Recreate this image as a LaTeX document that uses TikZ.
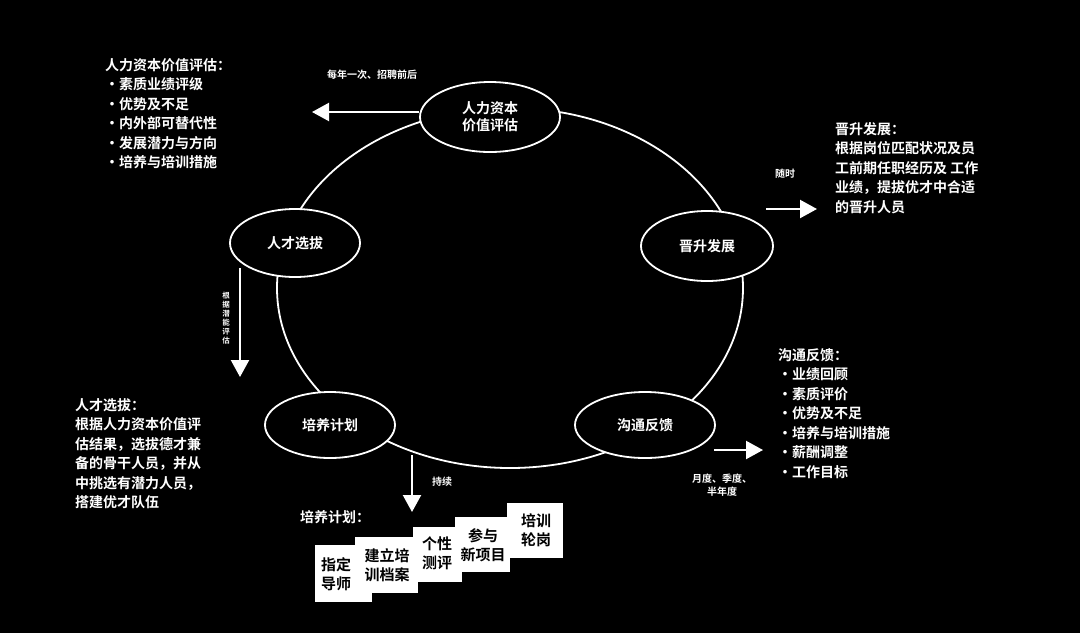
\documentclass[tikz,border=0pt]{standalone}
\usepackage{fontspec}
\setmainfont{Noto Sans CJK SC}[BoldFont={Noto Sans CJK SC Bold}]
\usetikzlibrary{shapes.geometric,arrows.meta}
\begin{document}
\begin{tikzpicture}[x=1pt,y=-1pt,
 el/.style={ellipse,draw=white,line width=1.8pt,fill=black,text=white,minimum width=134pt,minimum height=68pt,font=\bfseries\fontsize{14}{17}\selectfont,align=center,inner sep=0pt},
 arr/.style={draw=white,line width=2.2pt,-{Triangle[width=18pt,length=17pt]}},
 small/.style={text=white,font=\bfseries\fontsize{10}{13}\selectfont,align=center,inner sep=0pt},
 txt/.style={text=white,font=\bfseries\fontsize{14}{19.5}\selectfont,align=left,anchor=north west,inner sep=0pt},
 stxt/.style={text=black,font=\bfseries\fontsize{15}{19}\selectfont,align=center,inner sep=0pt}]
\fill[black] (0,0) rectangle (1080,633);
\useasboundingbox (0,0) rectangle (1080,633);
\draw[white,line width=1.8pt,fill=black] (510,288) ellipse[x radius=233,y radius=180];
\node[el,minimum width=140pt,minimum height=70pt] (top) at (490,117) {人力资本\\价值评估};
\node[el,minimum width=130pt] (left) at (295,243) {人才选拔};
\node[el,minimum width=132pt,minimum height=70pt] (right) at (707,246) {晋升发展};
\node[el,minimum width=130pt,minimum height=66pt] (bl) at (330,425) {培养计划};
\node[el,minimum width=140pt,minimum height=66pt] (br) at (645,425) {沟通反馈};
\coordinate (a1) at (312,112);
\draw[arr] (top.west) ++(0,-5) -- (a1);
\node[small] at (372,75) {每年一次、招聘前后};
\coordinate (b0) at (240,268); \coordinate (b1) at (240,377);
\draw[arr] (b0) -- (b1);
\node[small,font=\bfseries\fontsize{7.5}{9}\selectfont] at (226,318) {根\\据\\潜\\能\\评\\估};
\coordinate (c0) at (766,209); \coordinate (c1) at (817,209);
\draw[arr] (c0) -- (c1);
\node[small] at (785,174) {随时};
\coordinate (d0) at (714,450); \coordinate (d1) at (763,450);
\draw[arr] (d0) -- (d1);
\node[small] at (722,485) {月度、季度、\\半年度};
\coordinate (e0) at (412,455); \coordinate (e1) at (412,512);
\draw[arr] (e0) -- (e1);
\node[small] at (442,482) {持续};
\node[txt] (t1) at (105,58) {人力资本价值评估：\\•素质业绩评级\\•优势及不足\\•内外部可替代性\\•发展潜力与方向\\•培养与培训措施};
\node[txt] (t2) at (835,122) {晋升发展：\\根据岗位匹配状况及员\\工前期任职经历及 工作\\业绩，提拔优才中合适\\的晋升人员};
\node[txt] (t3) at (778,348) {沟通反馈：\\•业绩回顾\\•素质评价\\•优势及不足\\•培养与培训措施\\•薪酬调整\\•工作目标};
\node[txt] (t4) at (75,398) {人才选拔：\\根据人力资本价值评\\估结果，选拔德才兼\\备的骨干人员，并从\\中挑选有潜力人员，\\搭建优才队伍};
\node[txt] (t5) at (300,510) {培养计划：};
\fill[white] (315,545) rectangle (372,602);
\fill[white] (355,537) rectangle (418,593);
\fill[white] (413,527) rectangle (462,582);
\fill[white] (455,517) rectangle (510,572);
\fill[white] (507,503) rectangle (563,558);
\node[stxt] (s1) at (336,574) {指定\\导师};
\node[stxt] (s2) at (387,565) {建立培\\训档案};
\node[stxt] (s3) at (437,553) {个性\\测评};
\node[stxt] (s4) at (483,545) {参与\\新项目};
\node[stxt] (s5) at (536,530) {培训\\轮岗};
\end{tikzpicture}
\end{document}
